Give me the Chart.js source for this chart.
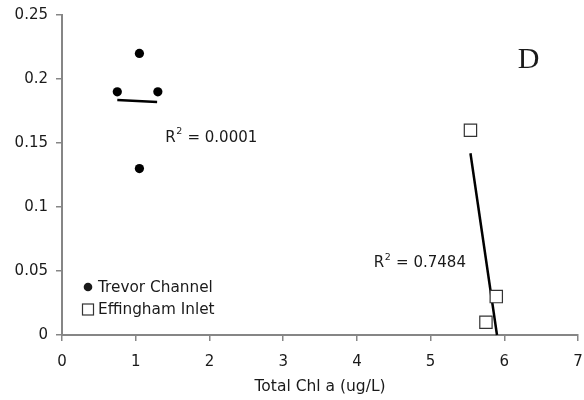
<!DOCTYPE html>
<html>
<head>
<meta charset="utf-8">
<script src="https://cdn.jsdelivr.net/npm/chart.js@4.4.1/dist/chart.umd.min.js"></script>
<style>
  html, body { margin: 0; padding: 0; background: #fff; overflow: hidden; }
  /* a little wider than the window: the axis keeps ~10px spare on the right */
  #wrap { width: 588px; height: 400px; position: relative; }
  #chart { display: block; }
</style>
</head>
<body>
<div id="wrap"><canvas id="chart"></canvas></div>
<script>
// ===== DATA =====
const seriesNames = ['Trevor Channel', 'Effingham Inlet'];
const trevorX = [0.75, 1.05, 1.3, 1.05];
const trevorY = [0.19, 0.22, 0.19, 0.13];
const effinghamX = [5.54, 5.89, 5.75];
const effinghamY = [0.16, 0.03, 0.01];
// trend lines (end points)
const trevorFitX = [0.75, 1.29];
const trevorFitY = [0.1835, 0.182];
const effinghamFitX = [5.54, 5.90];
const effinghamFitY = [0.142, 0.0];
const rSquared = ['0.0001', '0.7484'];
const xTickValues = [0, 1, 2, 3, 4, 5, 6, 7];
const yTickLabels = ['0', '0.05', '0.1', '0.15', '0.2', '0.25'];
const xTitle = 'Total Chl a (ug/L)';
const panelLetter = 'D';

const pts = (xs, ys) => xs.map((x, i) => ({ x: x, y: ys[i] }));

const FONT = "'DejaVu Sans', Verdana, sans-serif";
const AXIS = '#868686';
const INK = '#1a1a1a';

// ===== R² / LETTER / LEGEND =====
function drawR2(ctx, text, x, y) {
  ctx.textBaseline = 'middle';
  ctx.textAlign = 'left';
  ctx.font = '15px ' + FONT;
  ctx.fillText('R', x, y);
  let w = ctx.measureText('R').width;
  ctx.font = '9.5px ' + FONT;
  ctx.fillText('2', x + w + 0.5, y - 6);
  w += ctx.measureText('2').width + 1;
  ctx.font = '15px ' + FONT;
  ctx.fillText(' = ' + text, x + w, y);
}

const extras = {
  id: 'extras',
  afterDatasetsDraw(chart) {
    const { ctx, scales: { x, y }, chartArea } = chart;
    ctx.save();
    ctx.fillStyle = INK;
    drawR2(ctx, rSquared[0], x.getPixelForValue(1.4), y.getPixelForValue(0.154));
    drawR2(ctx, rSquared[1], x.getPixelForValue(4.23), y.getPixelForValue(0.056));

    ctx.font = '30px "Liberation Serif", "Times New Roman", serif';
    ctx.textBaseline = 'middle';
    ctx.fillText(panelLetter, x.getPixelForValue(6.18), y.getPixelForValue(0.215));

    // legend, lower left inside the plot
    const lx = chartArea.left + 26, ly = chartArea.bottom - 48;
    ctx.beginPath();
    ctx.arc(lx, ly, 4.3, 0, Math.PI * 2);
    ctx.fill();
    ctx.fillStyle = '#fff';
    ctx.strokeStyle = '#333';
    ctx.lineWidth = 1.2;
    ctx.fillRect(lx - 5.5, ly + 17, 11, 11);
    ctx.strokeRect(lx - 5.5, ly + 17, 11, 11);
    ctx.fillStyle = INK;
    ctx.font = '15.3px ' + FONT;
    ctx.textBaseline = 'middle';
    ctx.fillText(seriesNames[0], lx + 10, ly + 1);
    ctx.fillText(seriesNames[1], lx + 10, ly + 23);
    ctx.restore();
  }
};

// ===== CHART =====
new Chart(document.getElementById('chart'), {
  type: 'scatter',
  data: {
    datasets: [
      {
        label: seriesNames[0],
        data: pts(trevorX, trevorY),
        pointStyle: 'circle',
        pointRadius: 4.6,
        backgroundColor: '#000',
        borderColor: '#000',
        borderWidth: 0,
      },
      {
        label: seriesNames[1],
        data: pts(effinghamX, effinghamY),
        pointStyle: 'rect',
        pointRadius: 8.7,
        backgroundColor: '#fff',
        borderColor: '#333',
        borderWidth: 1.2,
      },
      {
        label: 'fit1',
        data: pts(trevorFitX, trevorFitY),
        showLine: true,
        pointRadius: 0,
        borderColor: '#000',
        borderWidth: 2.5,
      },
      {
        label: 'fit2',
        data: pts(effinghamFitX, effinghamFitY),
        showLine: true,
        pointRadius: 0,
        borderColor: '#000',
        borderWidth: 2.5,
        clip: false,
      },
    ]
  },
  options: {
    responsive: true,
    maintainAspectRatio: false,
    animation: false,
    layout: { padding: { top: 15, right: 2, left: 0, bottom: 0 } },
    plugins: {
      legend: { display: false },
      tooltip: { enabled: false },
    },
    scales: {
      x: {
        type: 'linear',
        min: 0,
        max: 7,
        afterBuildTicks: (s) => { s.ticks = xTickValues.map(v => ({ value: v })); },
        afterFit: (s) => { s.height = 65; s.paddingRight = 0; s.paddingLeft = 0; },
        border: { color: AXIS, width: 2 },
        grid: { drawOnChartArea: false, color: AXIS, tickLength: 6, lineWidth: 1.5 },
        ticks: { color: INK, font: { family: FONT, size: 15 }, padding: 12 },
        title: { display: true, text: xTitle, color: INK, font: { family: FONT, size: 15.5 }, padding: { top: 2 } },
      },
      y: {
        type: 'linear',
        min: 0,
        max: 0.25,
        ticks: {
          stepSize: 0.05,
          color: INK,
          font: { family: FONT, size: 15 },
          padding: 8,
          callback: (v, i) => yTickLabels[i],
        },
        afterFit: (s) => { s.width = 62; s.paddingTop = 0; s.paddingBottom = 0; },
        border: { color: AXIS, width: 2 },
        grid: { drawOnChartArea: false, color: AXIS, tickLength: 6, lineWidth: 1.5 },
      }
    }
  },
  plugins: [extras]
});
</script>
</body>
</html>
